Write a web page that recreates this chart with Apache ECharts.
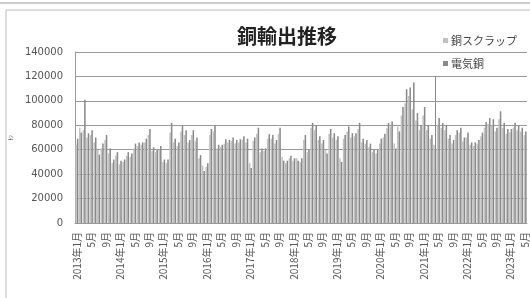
<!DOCTYPE html>
<html>
<head>
<meta charset="utf-8">
<script src="https://cdn.jsdelivr.net/npm/echarts@6/dist/echarts.min.js"></script>
<style>
  html, body { margin: 0; padding: 0; background: #fff; }
  #main { width: 530px; height: 298px; }
</style>
</head>
<body>
<div id="main"></div>
<script>
// 月ラベル 2013年1月〜2023年5月
const months = []
for (let y = 2013; y <= 2023; y++) {
  for (let m = 1; m <= 12; m++) {
    if (y === 2023 && m > 5) break
    months.push(m === 1 ? y + '年1月' : m + '月')
  }
}

// 電気銅 (t)
const denkidou = [
  69000, 74000, 101000, 73500, 76000, 70000, 56000, 65000, 72000, 61000, 52000, 58000,
  51000, 52000, 58000, 57000, 65000, 66000, 66000, 69000, 77000, 62000, 60000, 63000,
  52000, 52000, 82000, 69000, 66000, 80000, 76000, 68000, 76000, 70000, 55600, 42500,
  49000, 77000, 80000, 64000, 64000, 68600, 68000, 70000, 68000, 68600, 71000, 69000,
  45000, 70000, 78000, 61000, 61000, 72700, 72000, 68000, 78000, 51000, 51000, 55000,
  53000, 51000, 53000, 72000, 60000, 82000, 80000, 71000, 68000, 57000, 77000, 73500,
  71000, 50000, 72000, 79000, 73500, 73500, 82000, 69000, 68000, 65000, 60000, 60000,
  69000, 73000, 82000, 83000, 61000, 75000, 95000, 109500, 111000, 115000, 90000, 80000,
  95000, 80000, 72000, 60000, 86000, 82000, 80000, 72000, 68000, 76000, 78000, 70000,
  74000, 66000, 66000, 68000, 74000, 82700, 86000, 85000, 78000, 91500, 82000, 77000,
  77000, 82000, 80000, 78000, 75000
]

// 銅スクラップ (t)
const scrap = [
  64000, 78000, 76000, 70000, 72000, 66000, 60000, 61000, 68000, 57000, 49000, 55000,
  48000, 50000, 55000, 54000, 61000, 63000, 64000, 66000, 72000, 59000, 58000, 60000,
  50000, 49000, 74000, 66000, 63000, 75000, 72000, 66000, 72000, 67000, 53000, 47000,
  46000, 72000, 75000, 61000, 62000, 65000, 66000, 67000, 65000, 66000, 68000, 66000,
  49000, 67000, 73000, 58000, 59000, 69000, 69000, 65000, 73000, 54000, 49000, 53000,
  51000, 53000, 50000, 68000, 58000, 78000, 76000, 68000, 65000, 60000, 73000, 70000,
  68000, 53000, 69000, 75000, 70000, 71000, 77000, 66000, 65000, 62000, 58000, 57000,
  65000, 70000, 78000, 79000, 65000, 79000, 88000, 98000, 104000, 93000, 84000, 76000,
  88000, 76000, 69000, 64000, 80000, 78000, 76000, 69000, 65000, 72000, 74000, 67000,
  70000, 64000, 63000, 65000, 71000, 78000, 81000, 80000, 75000, 85000, 78000, 73000,
  74000, 78000, 76000, 75000, 72000
]

const yTicks = [0, 20000, 40000, 60000, 80000, 100000, 120000, 140000]

const chart = echarts.init(document.getElementById('main'))

const option = {
  backgroundColor: '#fff',
  animation: false,
  title: {
    text: '銅輸出推移',
    left: 232,
    top: 21,
    textStyle: {
      fontFamily: 'Noto Sans CJK JP',
      fontSize: 20,
      fontWeight: 'bold',
      color: '#222'
    }
  },
  legend: {
    orient: 'vertical',
    left: 438,
    top: 30,
    itemGap: 12,
    itemWidth: 5,
    itemHeight: 5,
    icon: 'rect',
    textStyle: {
      fontFamily: 'Noto Sans CJK JP',
      fontSize: 11,
      color: '#444',
      padding: [0, 0, 0, -2]
    },
    data: ['銅スクラップ', '電気銅']
  },
  grid: {
    left: 58,
    top: 52,
    right: -7,
    bottom: 75
  },
  xAxis: {
    type: 'category',
    data: months,
    axisLine: { lineStyle: { color: '#999' } },
    axisTick: { show: false },
    axisLabel: {
      interval: 3,
      rotate: 90,
      margin: 9,
      fontFamily: 'Noto Sans CJK JP',
      fontSize: 10,
      color: '#555'
    }
  },
  yAxis: {
    type: 'value',
    min: yTicks[0],
    max: yTicks[yTicks.length - 1],
    interval: 20000,
    name: 'ﾄﾝ',
    nameLocation: 'middle',
    nameGap: 42,
    nameRotate: 90,
    nameTextStyle: { fontSize: 6, color: '#444' },
    axisLine: { show: true, lineStyle: { color: '#999' } },
    axisTick: { show: false },
    splitLine: { lineStyle: { color: '#9a9a9a', width: 1 } },
    axisLabel: {
      margin: 12,
      fontFamily: 'DejaVu Sans',
      fontSize: 10,
      color: '#555',
      formatter: (v) => String(v)
    }
  },
  series: [
    {
      name: '銅スクラップ',
      type: 'bar',
      data: scrap,
      barGap: '0%',
      barCategoryGap: '15%',
      itemStyle: { color: '#c2c2c2' }
    },
    {
      name: '電気銅',
      type: 'bar',
      data: denkidou,
      itemStyle: { color: '#8a8a8a' },
      markLine: {
        silent: true,
        symbol: 'none',
        label: { show: false },
        lineStyle: { color: '#888', width: 1, type: 'solid' },
        data: [[{ coord: [99, 0] }, { coord: [99, 120000] }]]
      }
    }
  ],
  graphic: [
    {
      type: 'rect',
      shape: { x: 6, y: 10, width: 540, height: 300 },
      style: { fill: 'none', stroke: '#bbb', lineWidth: 1 }
    },
    {
      type: 'line',
      shape: { x1: 0, y1: 3, x2: 530, y2: 3 },
      style: { stroke: '#ccc', lineWidth: 2 }
    }
  ]
}

chart.setOption(option)
window.addEventListener('resize', () => {
  chart.resize()
})
</script>
</body>
</html>
